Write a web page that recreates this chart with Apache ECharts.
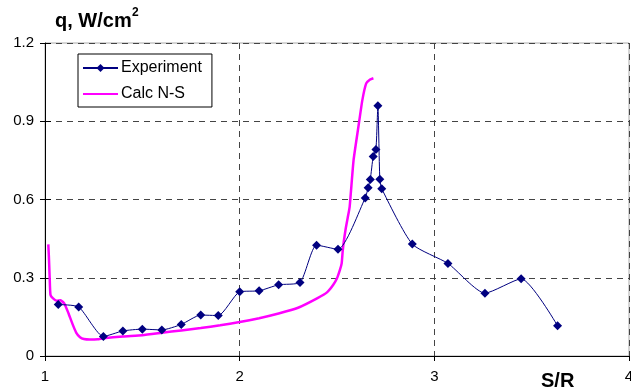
<!DOCTYPE html>
<html>
<head>
<meta charset="utf-8">
<script src="https://cdn.jsdelivr.net/npm/echarts@6/dist/echarts.min.js"></script>
<style>
html,body{margin:0;padding:0;background:#fff;overflow:hidden;}
#chart{width:631px;height:392px;}
</style>
</head>
<body>
<div id="chart"></div>
<script>
// ---- data ----
var expX = [1.068,1.173,1.30,1.40,1.50,1.60,1.70,1.80,1.89,2.00,2.10,2.20,2.31,2.395,2.505,2.645,2.66,2.671,2.686,2.70,2.71,2.72,2.73,2.887,3.07,3.26,3.446,3.633];
var expY = [0.197,0.188,0.075,0.096,0.103,0.100,0.121,0.157,0.155,0.246,0.250,0.273,0.282,0.425,0.409,0.606,0.645,0.677,0.765,0.792,0.959,0.678,0.641,0.429,0.355,0.241,0.296,0.116];
var calcX = [1.017,1.020,1.024,1.028,1.04,1.06,1.08,1.10,1.12,1.14,1.16,1.18,1.20,1.23,1.27,1.30,1.40,1.50,1.60,1.70,1.80,1.90,2.00,2.10,2.20,2.30,2.40,2.45,2.48,2.50,2.515,2.524,2.529,2.535,2.545,2.555,2.565,2.585,2.61,2.63,2.65,2.67,2.687];
var calcY = [0.428,0.38,0.30,0.235,0.222,0.212,0.214,0.20,0.165,0.125,0.09,0.072,0.065,0.063,0.064,0.068,0.075,0.080,0.089,0.098,0.107,0.118,0.130,0.145,0.163,0.185,0.222,0.245,0.272,0.298,0.33,0.355,0.40,0.44,0.49,0.53,0.572,0.75,0.879,0.98,1.045,1.06,1.065];
var seriesNames = ['Experiment','Calc N-S'];
var xTickLabels = ['1','2','3','4'];
var yTickLabels = ['0','0.3','0.6','0.9','1.2'];
var yTitle = 'q, W/cm';
var yTitleSup = '2';
var xTitle = 'S/R';

function zip(a,b){var r=[];for(var i=0;i<a.length;i++)r.push([a[i],b[i]]);return r;}

var FONT = 'Liberation Sans, Arial, sans-serif';
var chart = echarts.init(document.getElementById('chart'), null, {renderer:'canvas',width:631,height:392});
var dash = [6,5];
chart.setOption({
  animation:false,
  backgroundColor:'#fff',
  grid:{left:45,width:584,top:43,height:313,containLabel:false,outerBoundsMode:'none',
    show:true,borderColor:'#aaa',borderWidth:1,backgroundColor:'transparent'},
  xAxis:{type:'value',min:1,max:4,interval:1,
    axisLine:{show:true,onZero:false,lineStyle:{color:'#000',width:1}},
    axisTick:{show:true,inside:false,length:5,lineStyle:{color:'#000'}},
    axisLabel:{margin:13,fontSize:15,fontFamily:FONT,color:'#000',
      formatter:function(v){return xTickLabels[Math.round(v-1)];}},
    splitLine:{show:true,lineStyle:{color:'#444',type:dash,width:1}}
  },
  yAxis:[{type:'value',min:0,max:1.2,interval:0.3,
    axisLine:{show:true,onZero:false,lineStyle:{color:'#000',width:1}},
    axisTick:{show:true,inside:false,length:5,lineStyle:{color:'#000'}},
    axisLabel:{margin:11,fontSize:15,fontFamily:FONT,color:'#000',
      formatter:function(v,i){return yTickLabels[Math.round(v/0.3)];}},
    splitLine:{show:true,lineStyle:{color:'#444',type:dash,width:1}}
  },{type:'value',min:0,max:1.2,interval:0.3,position:'left',
    axisLine:{show:false},axisTick:{show:true,inside:true,length:6,lineStyle:{color:'#000'}},
    axisLabel:{show:false},splitLine:{show:false}
  }],
  legend:{orient:'vertical',left:78,top:54,padding:[6,10,5,4],itemGap:10,
    itemWidth:35,itemHeight:10,borderColor:'#000',borderWidth:1,backgroundColor:'#fff',
    textStyle:{fontSize:16,fontFamily:FONT,color:'#000',padding:[0,0,0,-2]},
    data:[{name:seriesNames[0]},{name:seriesNames[1],itemStyle:{opacity:0}}]},
  series:[
    {name:seriesNames[0],type:'line',data:zip(expX,expY),smooth:0.2,
     symbol:'diamond',symbolSize:9,showAllSymbol:true,
     itemStyle:{color:'#000080'},lineStyle:{color:'#000080',width:1},z:3},
    {name:seriesNames[1],type:'line',data:zip(calcX,calcY),smooth:0.15,
     symbol:'none',itemStyle:{color:'#ff00ff'},lineStyle:{color:'#ff00ff',width:2.5},z:2}
  ],
  graphic:[
    {type:'text',left:55,top:11,style:{text:yTitle,font:'bold 20px '+FONT,fill:'#000'}},
    {type:'text',left:132,top:7,style:{text:yTitleSup,font:'bold 12px '+FONT,fill:'#000'}},
    {type:'text',left:541,top:371,style:{text:xTitle,font:'bold 20px '+FONT,fill:'#000'}}
  ]
});
</script>
</body>
</html>
